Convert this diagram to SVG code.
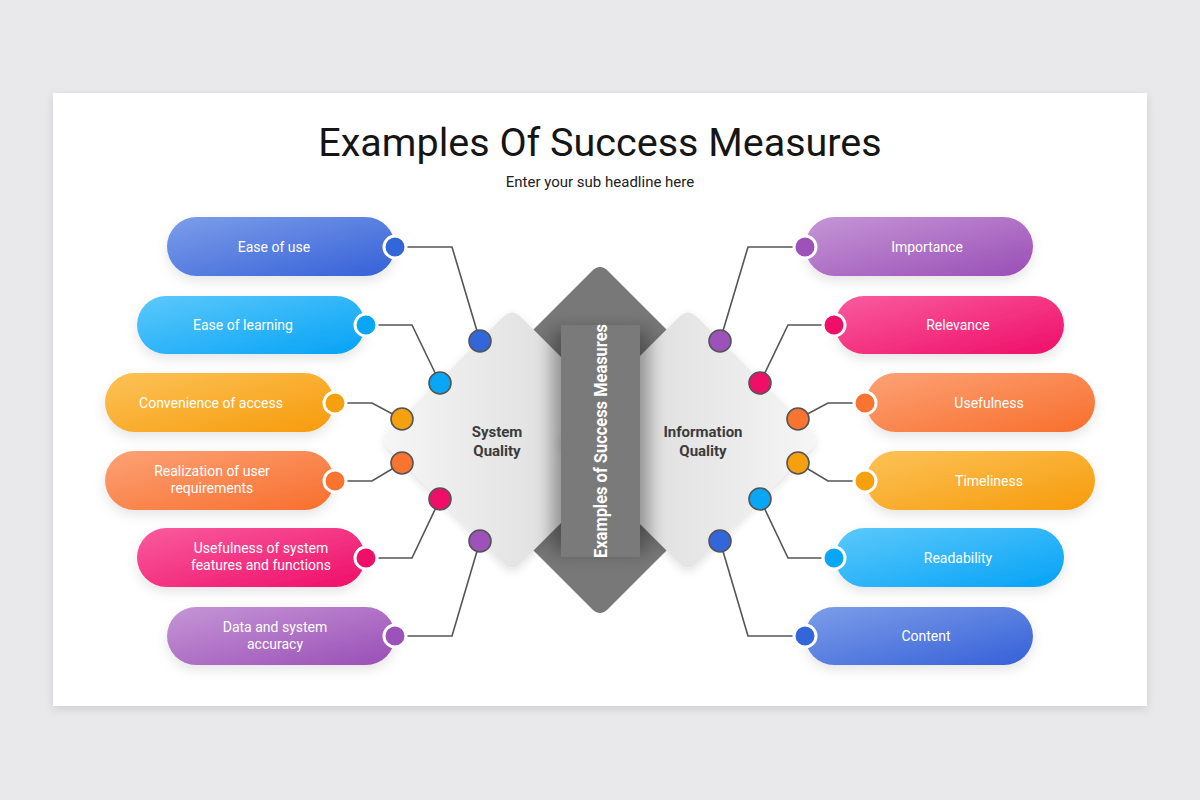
<svg xmlns="http://www.w3.org/2000/svg" width="1200" height="800" viewBox="0 0 1200 800">
<defs>
<style>
.title{font-family:Roboto,"Liberation Sans",sans-serif;font-size:39.5px;fill:#151515;text-anchor:middle}
.sub{font-family:Roboto,"Liberation Sans",sans-serif;font-size:15px;fill:#222;text-anchor:middle}
.pt{font-family:Roboto,"Liberation Sans",sans-serif;font-size:14px;fill:#fff;text-anchor:middle}
.ct{font-family:Roboto,"Liberation Sans",sans-serif;font-size:15px;font-weight:bold;fill:#3b3b3b;text-anchor:middle}
.bt{font-family:Roboto,"Liberation Sans",sans-serif;font-size:17.5px;font-weight:bold;fill:#fff;text-anchor:middle}
.ln{fill:none;stroke:#555;stroke-width:1.6}
.dd{stroke:#555;stroke-width:1.6}
.pd{stroke:#fff;stroke-width:3}
</style>
<filter id="card" x="-5%" y="-5%" width="110%" height="115%"><feDropShadow dx="0" dy="3" stdDeviation="5" flood-color="#000" flood-opacity="0.12"/></filter>
<filter id="pill" x="-20%" y="-30%" width="140%" height="180%"><feDropShadow dx="0" dy="5" stdDeviation="6" flood-color="#000" flood-opacity="0.1"/></filter>
<filter id="blur" x="-50%" y="-20%" width="200%" height="140%"><feGaussianBlur stdDeviation="9"/></filter>
<filter id="dsh" x="-20%" y="-20%" width="140%" height="140%"><feDropShadow dx="0" dy="3" stdDeviation="4" flood-color="#000" flood-opacity="0.12"/></filter>
<linearGradient id="gBlue" x1="0" y1="0" x2="1" y2="1"><stop offset="0" stop-color="#7d9ee9"/><stop offset="1" stop-color="#3560d8"/></linearGradient>
<linearGradient id="gSky" x1="0" y1="0" x2="1" y2="1"><stop offset="0" stop-color="#5cc9fb"/><stop offset="1" stop-color="#05a2f6"/></linearGradient>
<linearGradient id="gYel" x1="0" y1="0" x2="1" y2="1"><stop offset="0" stop-color="#fcc257"/><stop offset="1" stop-color="#f79b0b"/></linearGradient>
<linearGradient id="gOra" x1="0" y1="0" x2="1" y2="1"><stop offset="0" stop-color="#fca276"/><stop offset="1" stop-color="#f86e2c"/></linearGradient>
<linearGradient id="gPink" x1="0" y1="0" x2="1" y2="1"><stop offset="0" stop-color="#f95c9e"/><stop offset="1" stop-color="#ef0e68"/></linearGradient>
<linearGradient id="gPur" x1="0" y1="0" x2="1" y2="1"><stop offset="0" stop-color="#c596d6"/><stop offset="1" stop-color="#9a4eb6"/></linearGradient>
<linearGradient id="gL" x1="380" y1="0" x2="644" y2="0" gradientUnits="userSpaceOnUse"><stop offset="0" stop-color="#f6f6f6"/><stop offset="0.6" stop-color="#e2e2e2"/><stop offset="1" stop-color="#d6d6d6"/></linearGradient>
<linearGradient id="gR" x1="556" y1="0" x2="820" y2="0" gradientUnits="userSpaceOnUse"><stop offset="0" stop-color="#d6d6d6"/><stop offset="0.4" stop-color="#e2e2e2"/><stop offset="1" stop-color="#f6f6f6"/></linearGradient>
</defs>
<rect x="0" y="0" width="1200" height="800" fill="#e9e8ea"/>
<rect x="53" y="93" width="1094" height="613" fill="#fff" filter="url(#card)"/>
<text class="title" x="600" y="156">Examples Of Success Measures</text>
<text class="sub" x="600" y="187">Enter your sub headline here</text>

<g id="center">
<path d="M592,271 Q600,263 608,271 L769,432 Q777,440 769,448 L608,609 Q600,617 592,609 L431,448 Q423,440 431,432 Z" fill="#787878"/>
<path d="M503,317 Q512,308 521,317 L635,431 Q644,440 635,449 L521,563 Q512,572 503,563 L389,449 Q380,440 389,431 Z" fill="url(#gL)" filter="url(#dsh)"/>
<path d="M679,317 Q688,308 697,317 L811,431 Q820,440 811,449 L697,563 Q688,572 679,563 L565,449 Q556,440 565,431 Z" fill="url(#gR)" filter="url(#dsh)"/>
<rect x="552" y="330" width="97" height="222" fill="#000" opacity="0.35" filter="url(#blur)"/>
<rect x="561" y="325" width="79" height="232" fill="#7a7a7a"/>
<text class="bt" transform="translate(607,441) rotate(-90)" textLength="234" lengthAdjust="spacingAndGlyphs">Examples of Success Measures</text>
</g>

<g id="system-quality"><text class="ct" x="497" y="437">System</text><text class="ct" x="497" y="456">Quality</text></g>
<g id="information-quality"><text class="ct" x="703" y="437">Information</text><text class="ct" x="703" y="456">Quality</text></g>

<g id="connectors">
<polyline class="ln" points="395,247 452,247 480,341"/>
<polyline class="ln" points="366,325 412,325 440,383"/>
<polyline class="ln" points="335,403 372,403 402,419"/>
<polyline class="ln" points="335,481 372,481 402,463"/>
<polyline class="ln" points="366,558 412,558 440,499"/>
<polyline class="ln" points="395,636 452,636 480,541"/>
<polyline class="ln" points="805,247 748,247 720,341"/>
<polyline class="ln" points="834,325 788,325 760,383"/>
<polyline class="ln" points="865,403 828,403 798,419"/>
<polyline class="ln" points="865,481 828,481 798,463"/>
<polyline class="ln" points="834,558 788,558 760,499"/>
<polyline class="ln" points="805,636 748,636 720,541"/>
</g>

<g id="diamond-dots">
<circle class="dd" cx="480" cy="341" r="11" fill="#3466db"/>
<circle class="dd" cx="440" cy="383" r="11" fill="#08a6f5"/>
<circle class="dd" cx="402" cy="419" r="11" fill="#f5a00f"/>
<circle class="dd" cx="402" cy="463" r="11" fill="#f97331"/>
<circle class="dd" cx="440" cy="499" r="11" fill="#ef0f68"/>
<circle class="dd" cx="480" cy="541" r="11" fill="#9c52b8"/>
<circle class="dd" cx="720" cy="341" r="11" fill="#9c52b8"/>
<circle class="dd" cx="760" cy="383" r="11" fill="#ef0f68"/>
<circle class="dd" cx="798" cy="419" r="11" fill="#f97331"/>
<circle class="dd" cx="798" cy="463" r="11" fill="#f5a00f"/>
<circle class="dd" cx="760" cy="499" r="11" fill="#08a6f5"/>
<circle class="dd" cx="720" cy="541" r="11" fill="#3466db"/>
</g>

<g id="ease-of-use"><rect x="167" y="217" width="228" height="59" rx="29.5" fill="url(#gBlue)" filter="url(#pill)"/><circle class="pd" cx="395" cy="247" r="11" fill="#3466db"/><text class="pt" x="274" y="252">Ease of use</text></g>
<g id="ease-of-learning"><rect x="137" y="296" width="228" height="58" rx="29" fill="url(#gSky)" filter="url(#pill)"/><circle class="pd" cx="366" cy="325" r="11" fill="#08a6f5"/><text class="pt" x="243" y="330">Ease of learning</text></g>
<g id="convenience"><rect x="105" y="373" width="229" height="59" rx="29.5" fill="url(#gYel)" filter="url(#pill)"/><circle class="pd" cx="335" cy="403" r="11" fill="#f5a00f"/><text class="pt" x="211" y="408">Convenience  of access</text></g>
<g id="realization"><rect x="105" y="451" width="229" height="59" rx="29.5" fill="url(#gOra)" filter="url(#pill)"/><circle class="pd" cx="335" cy="481" r="11" fill="#f97331"/><text class="pt" x="212" y="476">Realization of user</text><text class="pt" x="212" y="493">requirements</text></g>
<g id="usefulness-system"><rect x="137" y="528" width="228" height="59" rx="29.5" fill="url(#gPink)" filter="url(#pill)"/><circle class="pd" cx="366" cy="558" r="11" fill="#ef0f68"/><text class="pt" x="261" y="553">Usefulness of system</text><text class="pt" x="261" y="570">features and functions</text></g>
<g id="data-accuracy"><rect x="167" y="607" width="228" height="58" rx="29" fill="url(#gPur)" filter="url(#pill)"/><circle class="pd" cx="395" cy="636" r="11" fill="#9c52b8"/><text class="pt" x="275" y="632">Data and system</text><text class="pt" x="275" y="649">accuracy</text></g>

<g id="importance"><rect x="805" y="217" width="228" height="59" rx="29.5" fill="url(#gPur)" filter="url(#pill)"/><circle class="pd" cx="805" cy="247" r="11" fill="#9c52b8"/><text class="pt" x="927" y="252">Importance</text></g>
<g id="relevance"><rect x="835" y="296" width="229" height="58" rx="29" fill="url(#gPink)" filter="url(#pill)"/><circle class="pd" cx="834" cy="325" r="11" fill="#ef0f68"/><text class="pt" x="958" y="330">Relevance</text></g>
<g id="usefulness"><rect x="866" y="373" width="229" height="59" rx="29.5" fill="url(#gOra)" filter="url(#pill)"/><circle class="pd" cx="865" cy="403" r="11" fill="#f97331"/><text class="pt" x="989" y="408">Usefulness</text></g>
<g id="timeliness"><rect x="866" y="451" width="229" height="59" rx="29.5" fill="url(#gYel)" filter="url(#pill)"/><circle class="pd" cx="865" cy="481" r="11" fill="#f5a00f"/><text class="pt" x="989" y="486">Timeliness</text></g>
<g id="readability"><rect x="835" y="528" width="229" height="59" rx="29.5" fill="url(#gSky)" filter="url(#pill)"/><circle class="pd" cx="834" cy="558" r="11" fill="#08a6f5"/><text class="pt" x="958" y="563">Readability</text></g>
<g id="content"><rect x="805" y="607" width="228" height="58" rx="29" fill="url(#gBlue)" filter="url(#pill)"/><circle class="pd" cx="805" cy="636" r="11" fill="#3466db"/><text class="pt" x="926" y="641">Content</text></g>
</svg>
